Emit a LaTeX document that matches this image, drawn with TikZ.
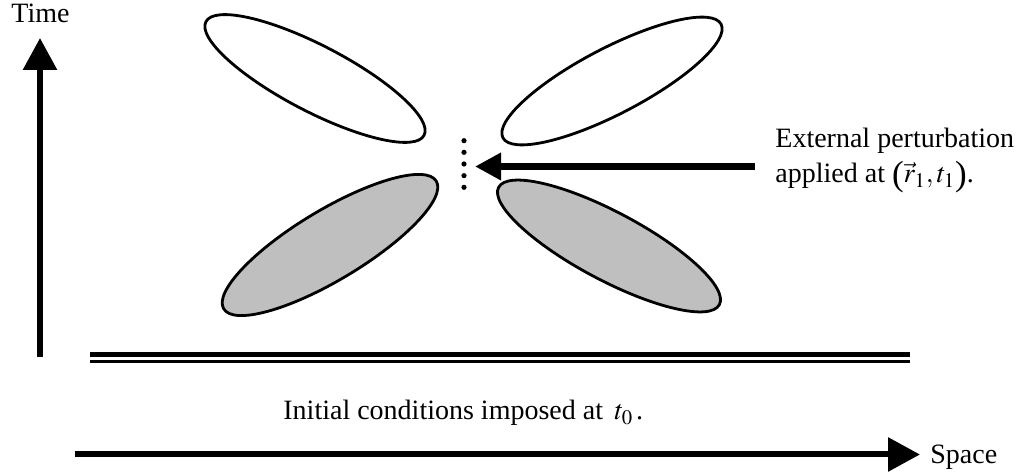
\documentclass[tikz,border=0pt]{standalone}
\usepackage{mathptmx}
\usepackage{fontspec}
\setmainfont{Liberation Serif}
\usetikzlibrary{arrows.meta}
\newcommand{\bigparen}[1]{\raisebox{-1.3pt}{\scalebox{1.25}{#1}}}
\begin{document}
\begin{tikzpicture}[x=0.5pt,y=-0.5pt,
  lbl/.style={inner sep=0pt,font=\fontsize{14}{16}\selectfont},
  axisarrow/.style={line width=3pt,-{Triangle[length=16pt,width=16.5pt]}},
  pertarrow/.style={line width=3.3pt,-{Triangle[length=13pt,width=13pt]}},
  lobe/.style={draw=black,line width=1.4pt,fill=white},
  globe/.style={draw=black,line width=1.4pt,fill=gray!50},
  dotmark/.style={circle,fill=black,inner sep=0pt,minimum size=2.6pt},
  thickline/.style={line width=2.9pt},
  thinline/.style={line width=1.4pt}]
\useasboundingbox (0,0) rectangle (1019,475);
% time axis
\coordinate (tbot) at (40,356.7);
\coordinate (ttop) at (40,38);
\draw[axisarrow] (tbot) -- (ttop);
\node[lbl,anchor=base west] (time) at (11,23) {Time};
% space axis
\coordinate (sleft) at (75,454.5);
\coordinate (sright) at (920,454.5);
\draw[axisarrow] (sleft) -- (sright);
\node[lbl,anchor=base west] (space) at (930,464) {Space};
% initial condition double line
\coordinate (d1) at (90,354.6);
\coordinate (d2) at (910,354.6);
\coordinate (e1) at (90,361.7);
\coordinate (e2) at (910,361.7);
\draw[thickline] (d1) -- (d2);
\draw[thinline] (e1) -- (e2);
\node[lbl,anchor=base west] (init) at (283,420) {Initial conditions imposed at \,$t_0\,$.};
% lobes
\draw[lobe,rotate around={-27.5:(315,78.5)}] (315,78.5) ellipse (123 and 33);
\draw[lobe,rotate around={27.5:(612,81)}] (612,81) ellipse (123 and 33);
\draw[globe,rotate around={31:(330,245)}] (330,245) ellipse (124 and 35);
\draw[globe,rotate around={-28:(609,246)}] (609,246) ellipse (125 and 34);
% dots
\foreach \i in {0,...,4} {
  \node[dotmark] (dot\i) at (464,140.7+11.65*\i) {};
}
% perturbation arrow
\coordinate (pstart) at (755,166.5);
\coordinate (pend) at (475,166.5);
\draw[pertarrow] (pstart) -- (pend);
\node[lbl,anchor=base west] (ext) at (775,148) {External perturbation};
\node[lbl,anchor=base west] (app) at (775,183) {applied at \bigparen{(}$\vec{r}_1,t_1$\bigparen{)}.};
\end{tikzpicture}
\end{document}
